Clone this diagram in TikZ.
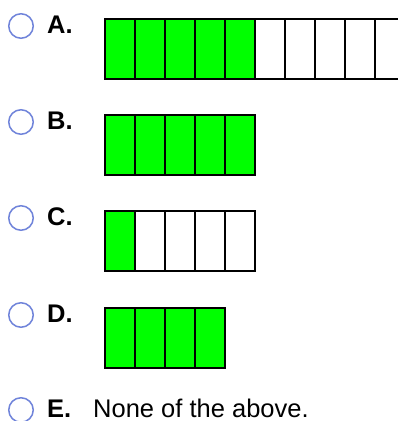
\documentclass[tikz,border=0pt]{standalone}
\usepackage{fontspec}
\setmainfont{Liberation Sans}
\definecolor{barfill}{RGB}{0,255,0}
\definecolor{radioblue}{RGB}{112,132,218}
\tikzset{
  radio/.style={circle,draw=radioblue,line width=1.5pt,minimum size=24.5pt,inner sep=0pt},
  letter/.style={font=\bfseries\fontsize{25.5}{30}\selectfont,anchor=base west,inner sep=0pt},
  answer/.style={font=\fontsize{25.5}{30}\selectfont,anchor=base west,inner sep=0pt},
  cell/.style={draw=black,line width=2pt}
}

\begin{document}
\begin{tikzpicture}[x=1pt,y=-1pt]
    \useasboundingbox (0,0) rectangle (397,421);
    % choice / baseline / cells / shaded cells
    \foreach \lab/\y/\n/\k in {A/33/10/5, B/129/5/5, C/225/5/1, D/322/4/4} {
        \node[radio] (r\lab) at (21,\y-7) {};
        \node[letter] (l\lab) at (47,\y) {\lab.};
        \fill[barfill] (105,\y-14) rectangle ({105+30*\k},\y+46);
        \foreach \i in {1,...,\n}
            \draw[cell] ({75+30*\i},\y-14) rectangle ({105+30*\i},\y+46);
    }
    \node[radio] (rE) at (21,410) {};
    \node[letter] (lE) at (47,417) {E.};
    \node[answer] (tE) at (93,417) {None of the above.};
\end{tikzpicture}
\end{document}
